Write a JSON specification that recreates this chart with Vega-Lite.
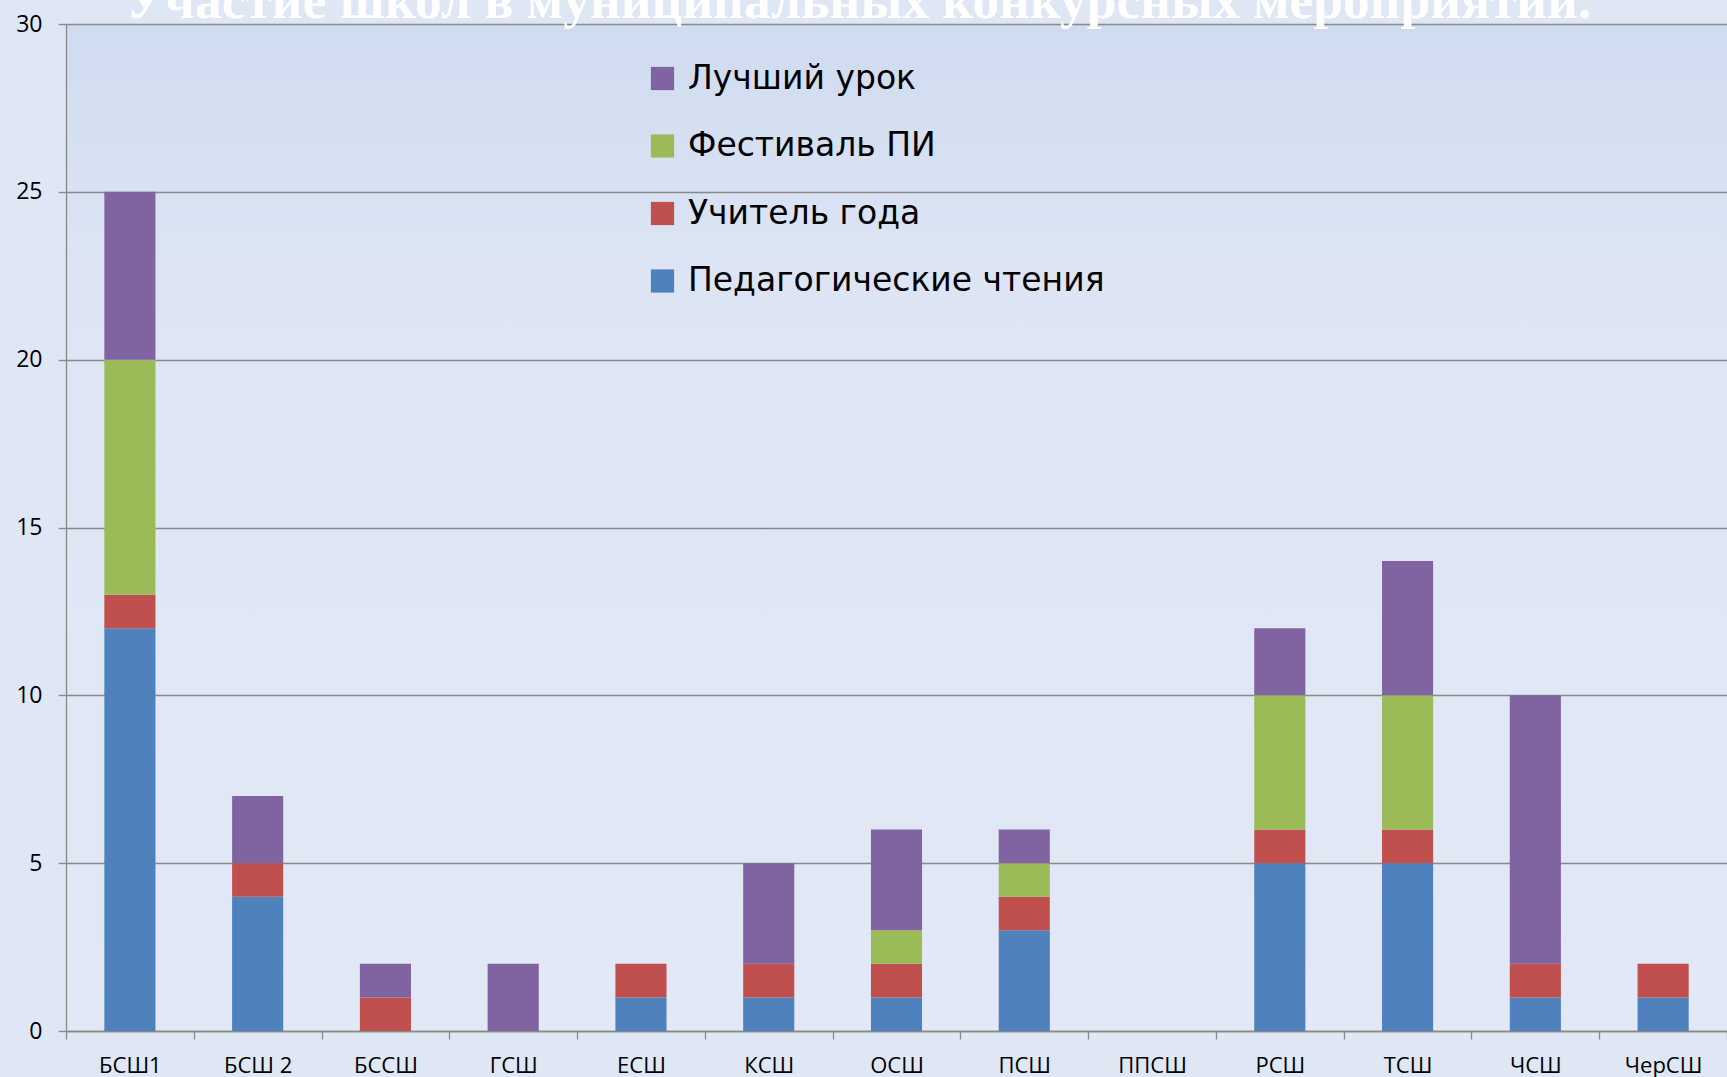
{
  "$schema": "https://vega.github.io/schema/vega-lite/v6.json",
  "width": 1661,
  "height": 1007,
  "autosize": {"type": "none"},
  "padding": {"left": 66, "top": 24, "right": 0, "bottom": 46},
  "background": "#dfe6f4",
  "title": {
    "text": "Участие школ в муниципальных конкурсных мероприятий.",
    "font": "Liberation Serif",
    "fontWeight": "bold",
    "fontSize": 53.5,
    "color": "#ffffff",
    "anchor": "middle",
    "baseline": "alphabetic",
    "offset": 0,
    "dx": -38,
    "dy": 58
  },
  "data": {
    "values": [
      {"school": "БСШ1", "event": "Педагогические чтения", "rank": 1, "count": 12},
      {"school": "БСШ1", "event": "Учитель года", "rank": 2, "count": 1},
      {"school": "БСШ1", "event": "Фестиваль ПИ", "rank": 3, "count": 7},
      {"school": "БСШ1", "event": "Лучший урок", "rank": 4, "count": 5},
      {"school": "БСШ 2", "event": "Педагогические чтения", "rank": 1, "count": 4},
      {"school": "БСШ 2", "event": "Учитель года", "rank": 2, "count": 1},
      {"school": "БСШ 2", "event": "Лучший урок", "rank": 4, "count": 2},
      {"school": "БССШ", "event": "Учитель года", "rank": 2, "count": 1},
      {"school": "БССШ", "event": "Лучший урок", "rank": 4, "count": 1},
      {"school": "ГСШ", "event": "Лучший урок", "rank": 4, "count": 2},
      {"school": "ЕСШ", "event": "Педагогические чтения", "rank": 1, "count": 1},
      {"school": "ЕСШ", "event": "Учитель года", "rank": 2, "count": 1},
      {"school": "КСШ", "event": "Педагогические чтения", "rank": 1, "count": 1},
      {"school": "КСШ", "event": "Учитель года", "rank": 2, "count": 1},
      {"school": "КСШ", "event": "Лучший урок", "rank": 4, "count": 3},
      {"school": "ОСШ", "event": "Педагогические чтения", "rank": 1, "count": 1},
      {"school": "ОСШ", "event": "Учитель года", "rank": 2, "count": 1},
      {"school": "ОСШ", "event": "Фестиваль ПИ", "rank": 3, "count": 1},
      {"school": "ОСШ", "event": "Лучший урок", "rank": 4, "count": 3},
      {"school": "ПСШ", "event": "Педагогические чтения", "rank": 1, "count": 3},
      {"school": "ПСШ", "event": "Учитель года", "rank": 2, "count": 1},
      {"school": "ПСШ", "event": "Фестиваль ПИ", "rank": 3, "count": 1},
      {"school": "ПСШ", "event": "Лучший урок", "rank": 4, "count": 1},
      {"school": "РСШ", "event": "Педагогические чтения", "rank": 1, "count": 5},
      {"school": "РСШ", "event": "Учитель года", "rank": 2, "count": 1},
      {"school": "РСШ", "event": "Фестиваль ПИ", "rank": 3, "count": 4},
      {"school": "РСШ", "event": "Лучший урок", "rank": 4, "count": 2},
      {"school": "ТСШ", "event": "Педагогические чтения", "rank": 1, "count": 5},
      {"school": "ТСШ", "event": "Учитель года", "rank": 2, "count": 1},
      {"school": "ТСШ", "event": "Фестиваль ПИ", "rank": 3, "count": 4},
      {"school": "ТСШ", "event": "Лучший урок", "rank": 4, "count": 4},
      {"school": "ЧСШ", "event": "Педагогические чтения", "rank": 1, "count": 1},
      {"school": "ЧСШ", "event": "Учитель года", "rank": 2, "count": 1},
      {"school": "ЧСШ", "event": "Лучший урок", "rank": 4, "count": 8},
      {"school": "ЧерСШ", "event": "Педагогические чтения", "rank": 1, "count": 1},
      {"school": "ЧерСШ", "event": "Учитель года", "rank": 2, "count": 1}
    ]
  },
  "mark": {"type": "bar", "width": {"band": 0.4}},
  "encoding": {
    "x": {
      "field": "school",
      "type": "nominal",
      "scale": {
        "domain": ["БСШ1", "БСШ 2", "БССШ", "ГСШ", "ЕСШ", "КСШ", "ОСШ", "ПСШ", "ППСШ", "РСШ", "ТСШ", "ЧСШ", "ЧерСШ"],
        "paddingInner": 0,
        "paddingOuter": 0
      },
      "axis": {
        "title": null,
        "labelAngle": 0,
        "labelFont": "Open Sans",
        "labelFontSize": 22,
        "labelColor": "#000000",
        "labelPadding": 16,
        "tickBand": "extent",
        "tickSize": 8,
        "tickColor": "#898989",
        "tickWidth": 1.3,
        "domainColor": "#898989",
        "domainWidth": 1.3,
        "grid": false
      }
    },
    "y": {
      "field": "count",
      "type": "quantitative",
      "stack": "zero",
      "scale": {"domain": [0, 30], "nice": false},
      "axis": {
        "title": null,
        "values": [0, 5, 10, 15, 20, 25, 30],
        "labelFont": "Open Sans",
        "labelFontSize": 23,
        "labelColor": "#000000",
        "labelPadding": 16,
        "tickSize": 8,
        "tickColor": "#898989",
        "tickWidth": 1.3,
        "domainColor": "#898989",
        "domainWidth": 1.3,
        "grid": true,
        "gridColor": "#898989",
        "gridWidth": 1.3
      }
    },
    "color": {
      "field": "event",
      "type": "nominal",
      "scale": {
        "domain": ["Лучший урок", "Фестиваль ПИ", "Учитель года", "Педагогические чтения"],
        "range": ["#8064a2", "#9bbb59", "#c0504d", "#4f81bd"]
      },
      "legend": {
        "title": null,
        "orient": "none",
        "legendX": 580,
        "legendY": 38,
        "padding": 0,
        "symbolType": "square",
        "symbolSize": 540,
        "symbolStrokeWidth": 0,
        "labelFont": "DejaVu Sans",
        "labelFontSize": 33,
        "labelColor": "#000000",
        "labelLimit": 0,
        "labelOffset": 9,
        "rowPadding": 33.5
      }
    },
    "order": {"field": "rank", "type": "quantitative"}
  },
  "config": {
    "view": {
      "stroke": null,
      "fill": {
        "gradient": "linear",
        "x1": 0, "y1": 0, "x2": 0, "y2": 1,
        "stops": [
          {"offset": 0, "color": "#cfdbf0"},
          {"offset": 0.25, "color": "#dde5f4"},
          {"offset": 1, "color": "#e2e8f5"}
        ]
      }
    }
  }
}
